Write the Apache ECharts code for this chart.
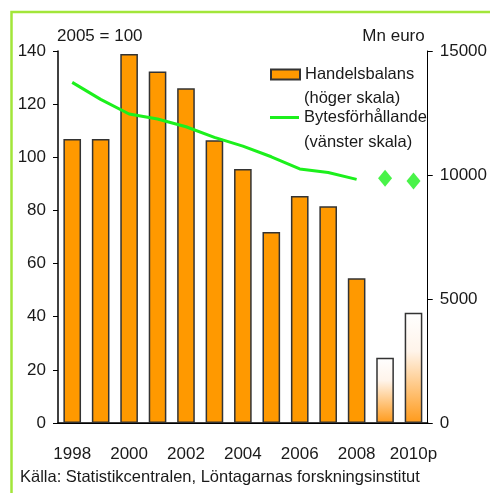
<!DOCTYPE html>
<html>
<head>
<meta charset="utf-8">
<script src="https://cdn.jsdelivr.net/npm/echarts@6/dist/echarts.min.js"></script>
<style>
  html, body { margin: 0; padding: 0; background: #fff; }
  #chart { width: 490px; height: 493px; }
</style>
</head>
<body>
<div id="chart"></div>
<script>
// data
var years = ["1998", "1999", "2000", "2001", "2002", "2003", "2004",
  "2005", "2006", "2007", "2008", "2009", "2010p"];
// Handelsbalans, Mn euro (right scale)
var handelsbalans = [11450, 11450, 14880, 14170, 13500, 11400, 10240,
  7700, 9150, 8740, 5840, 2630, 4450];
// Bytesförhållande, 2005 = 100 (left scale)
var bytesforhallande = [128.2, 121.8, 116.3, 114.4, 111.5, 107.5, 104.2,
  100.2, 95.6, 94.3, 91.7, null, null];
var bytesPrognos = [null, null, null, null, null, null, null,
  null, null, null, null, 92.1, 91.1];
var leftTicks = { min: 0, max: 140, interval: 20 };
var rightTicks = { min: 0, max: 15000, interval: 5000 };
var forecastFrom = 11; // 2009 and 2010p are forecasts

var font = "Liberation Sans";
var fs = 16.5;
var tickFs = 17;
var txt = "#1a1a1a";
var orange = "#ff9900";
var green = "#1cf01c";

var myChart = echarts.init(document.getElementById("chart"));

var barData = handelsbalans.map(function(v, i) {
  if (i < forecastFrom) return v;
  return {
    value: v,
    itemStyle: {
      color: new echarts.graphic.LinearGradient(0, 0, 0, 1, [
        { offset: 0, color: "#ffffff" },
        { offset: 0.35, color: "#fff4ea" },
        { offset: 1, color: "#ff9a1a" }
      ])
    }
  };
});

myChart.setOption({
  animation: false,
  textStyle: { fontFamily: font, color: txt },
  grid: { left: 58, right: 52, top: 51, bottom: 70 },
  legend: [
    {
      data: [{ name: "Handelsbalans", icon: "rect" }],
      left: 270,
      top: 66,
      padding: 0,
      itemWidth: 29,
      itemHeight: 10,
      textStyle: { fontFamily: font, fontSize: fs, color: txt }
    },
    {
      data: [{ name: "Bytesförhållande", icon: "rect" }],
      left: 270,
      top: 109,
      padding: 0,
      itemWidth: 29,
      itemHeight: 3,
      textStyle: { fontFamily: font, fontSize: fs, color: txt }
    }
  ],
  xAxis: [
    {
      type: "category",
      data: years,
      axisLine: { lineStyle: { color: "#000", width: 1.5 } },
      axisTick: { interval: 0, length: 5, lineStyle: { color: "#000" } },
      axisLabel: { interval: 1, margin: 23, fontSize: tickFs, color: txt }
    },
    {
      type: "category",
      data: years,
      position: "top",
      axisLine: { lineStyle: { color: "#000", width: 1 } },
      axisTick: { show: false },
      axisLabel: { show: false }
    }
  ],
  yAxis: [
    {
      type: "value",
      min: leftTicks.min,
      max: leftTicks.max,
      interval: leftTicks.interval,
      name: "2005 = 100",
      nameGap: 6,
      nameTextStyle: { align: "left", fontSize: tickFs, color: txt, padding: [0, 0, 0, -1] },
      axisLine: { show: true, lineStyle: { color: "#000", width: 1.5 } },
      axisTick: { show: true, length: 5, lineStyle: { color: "#000" } },
      axisLabel: { margin: 12, fontSize: tickFs, color: txt },
      splitLine: { show: false }
    },
    {
      type: "value",
      min: rightTicks.min,
      max: rightTicks.max,
      interval: rightTicks.interval,
      name: "Mn euro",
      nameGap: 6,
      nameTextStyle: { align: "right", fontSize: tickFs, color: txt, padding: [0, 3, 0, 0] },
      axisLine: { show: true, lineStyle: { color: "#000", width: 1 } },
      axisTick: { show: true, length: 5, lineStyle: { color: "#000" } },
      axisLabel: {
        margin: 12,
        fontSize: tickFs,
        color: txt,
        formatter: function(value) {
          return String(value);
        }
      },
      splitLine: { show: false }
    }
  ],
  series: [
    {
      name: "Handelsbalans",
      type: "bar",
      yAxisIndex: 1,
      barWidth: "62%",
      itemStyle: { color: orange, borderColor: "#333", borderWidth: 1.5 },
      data: barData
    },
    {
      name: "Bytesförhållande",
      type: "line",
      yAxisIndex: 0,
      symbol: "none",
      lineStyle: { color: green, width: 3 },
      itemStyle: { color: green },
      data: bytesforhallande
    },
    {
      name: "Prognos",
      type: "scatter",
      yAxisIndex: 0,
      symbol: "diamond",
      symbolSize: [14, 17],
      itemStyle: { color: green },
      data: bytesPrognos
    }
  ],
  graphic: [
    {
      type: "polyline",
      shape: { points: [[11.5, 493], [11.5, 12], [490, 12]] },
      style: { stroke: "#a2e63a", lineWidth: 2.5, fill: null }
    },
    {
      type: "text",
      left: 304,
      top: 90,
      style: { text: "(höger skala)", font: fs + "px " + font, fill: txt }
    },
    {
      type: "text",
      left: 304,
      top: 134,
      style: { text: "(vänster skala)", font: fs + "px " + font, fill: txt }
    },
    {
      type: "text",
      left: 20,
      top: 469,
      style: {
        text: "Källa: Statistikcentralen, Löntagarnas forskningsinstitut",
        font: fs + "px " + font,
        fill: txt
      }
    }
  ]
});

window.addEventListener("resize", function() {
  myChart.resize();
});
</script>
</body>
</html>
